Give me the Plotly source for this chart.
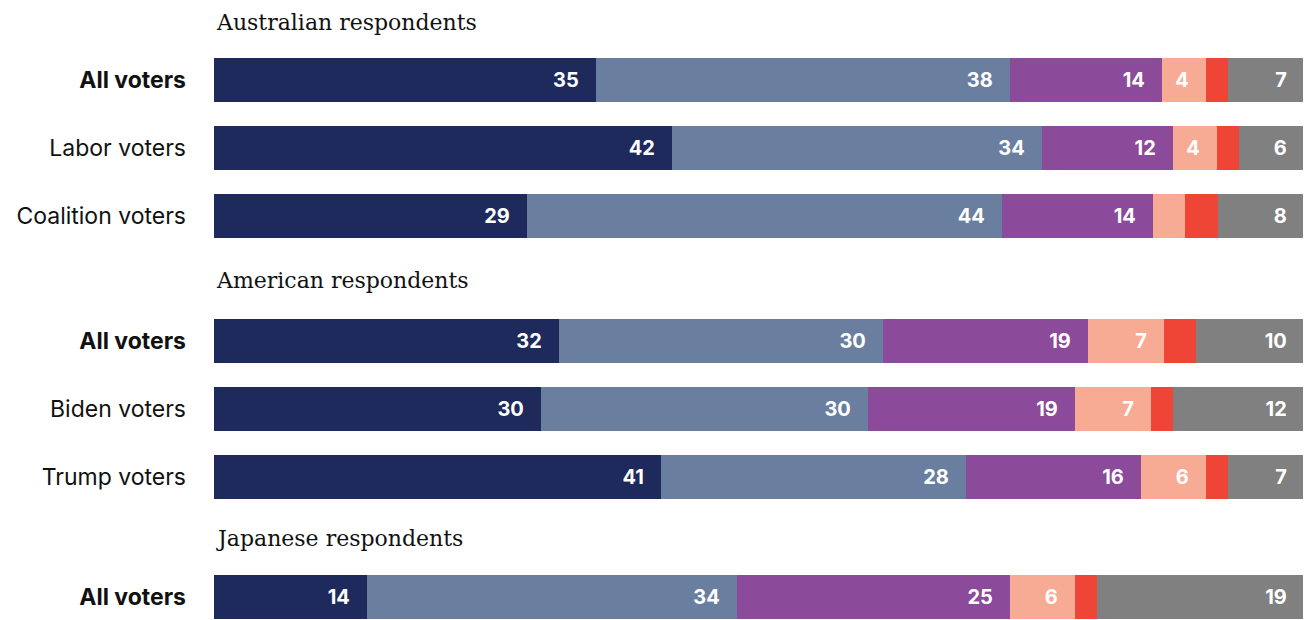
import plotly.graph_objects as go
from plotly.subplots import make_subplots

# --- data ---
groups = ["Australian respondents", "American respondents", "Japanese respondents"]

au_rows = ["All voters", "Labor voters", "Coalition voters"]
us_rows = ["All voters", "Biden voters", "Trump voters"]
jp_rows = ["All voters"]

au_navy = [35, 42, 29]
au_slate = [38, 34, 44]
au_purple = [14, 12, 14]
au_salmon = [4, 4, 3]
au_red = [2, 2, 3]
au_grey = [7, 6, 8]

us_navy = [32, 30, 41]
us_slate = [30, 30, 28]
us_purple = [19, 19, 16]
us_salmon = [7, 7, 6]
us_red = [3, 2, 2]
us_grey = [10, 12, 7]

jp_navy = [14]
jp_slate = [34]
jp_purple = [25]
jp_salmon = [6]
jp_red = [2]
jp_grey = [19]

colors = ["#1f2a5c", "#6a7f9f", "#8b4a9a", "#f7ab94", "#ef4536", "#808080"]

panels = [
    (au_rows, [au_navy, au_slate, au_purple, au_salmon, au_red, au_grey]),
    (us_rows, [us_navy, us_slate, us_purple, us_salmon, us_red, us_grey]),
    (jp_rows, [jp_navy, jp_slate, jp_purple, jp_salmon, jp_red, jp_grey]),
]

W, H = 1311, 620
OFF = 8  # page body margin
SANS = "Inter, Roboto, sans-serif"
PAD = "\u00a0\u00a0\u00a0"

fig = make_subplots(rows=3, cols=1, shared_xaxes=True)

for p, (rows, series) in enumerate(panels):
    for s, vals in enumerate(series):
        labels = [f"{v}{PAD}" if v >= 4 else "" for v in vals]
        fig.add_trace(
            go.Bar(
                x=vals,
                y=rows,
                orientation="h",
                marker=dict(color=colors[s], line=dict(width=0)),
                text=labels,
                texttemplate="%{text}",
                textposition="inside",
                insidetextanchor="end",
                textangle=0,
                textfont=dict(family=SANS, size=20, color="white", weight="bold"),
                width=0.66,
                showlegend=False,
                hoverinfo="skip",
            ),
            row=p + 1, col=1,
        )

# pixel bands (screen coords) for each panel and row pitch
pitch = 68
bands = [(46, 250), (307, 511), (563, 640)]
centers_first = [80, 341, 597]

for p, (rows, _) in enumerate(panels):
    top, bot = bands[p]
    lo = -((centers_first[p] - top) / pitch)
    hi = (bot - centers_first[p]) / pitch
    top -= OFF
    bot -= OFF
    yname = "yaxis" if p == 0 else f"yaxis{p + 1}"
    xname = "xaxis" if p == 0 else f"xaxis{p + 1}"
    fig.layout[yname].update(
        domain=[max(0, (H - bot) / H), (H - top) / H],
        type="category",
        categoryorder="array",
        categoryarray=rows,
        range=[hi if bot <= H else (H + OFF - centers_first[p]) / pitch, lo],
        tickvals=rows,
        ticktext=[f"<b>{r}</b>" if r == "All voters" else r for r in rows],
        tickfont=dict(family=SANS, size=23, color="#111111"),
        ticks="",
        ticklabelstandoff=27,
        showgrid=False,
        zeroline=False,
        showline=False,
        automargin=False,
    )
    fig.layout[xname].update(
        domain=[(214 - OFF) / W, (1304 - OFF) / W],
        range=[0, 100],
        visible=False,
        showgrid=False,
        zeroline=False,
    )

# section headers
header_y = [23, 280, 538]
for g, yy in zip(groups, header_y):
    fig.add_annotation(
        text=g, xref="paper", yref="paper",
        x=(214 - OFF) / W, y=(H - (yy - OFF)) / H,
        xanchor="left", yanchor="middle", showarrow=False,
        font=dict(family="DejaVu Serif, serif", size=22, color="#111111"),
    )

fig.update_layout(
    width=W, height=H,
    barmode="stack",
    barnorm="percent",
    margin=dict(l=0, r=0, t=0, b=0),
    plot_bgcolor="white",
    paper_bgcolor="white",
    bargap=0,
)

fig.write_html("out.html")
